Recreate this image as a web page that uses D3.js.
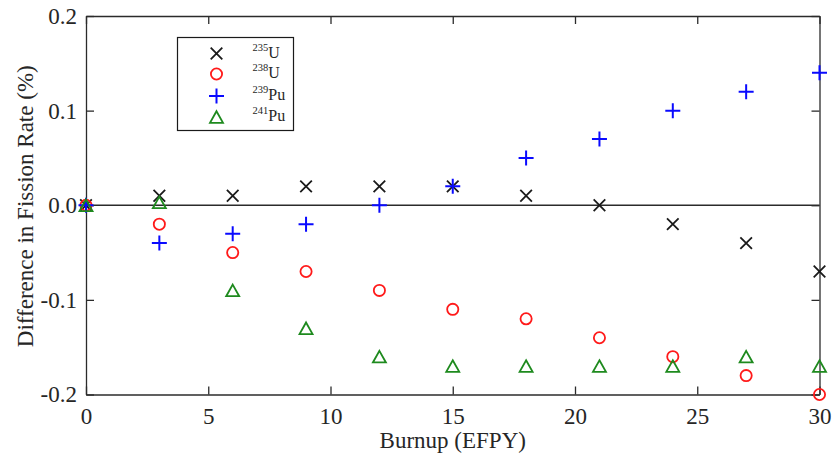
<!DOCTYPE html>
<html>
<head>
<meta charset="utf-8">
<script src="https://cdn.jsdelivr.net/npm/d3@7"></script>
<style>
  html, body { margin: 0; padding: 0; background: #fff; }
  svg { display: block; }
  svg text { font-family: "Liberation Serif", "Times New Roman", serif; }
</style>
</head>
<body>
<svg id="chart" width="833" height="460"></svg>
<script>
// Burnup steps (EFPY)
const burnup = [0, 3, 6, 9, 12, 15, 18, 21, 24, 27, 30];

// Difference in fission rate (%) per nuclide
const u235  = [0, 0.01, 0.01, 0.02, 0.02, 0.02, 0.01, 0.0, -0.02, -0.04, -0.07];
const u238  = [0, -0.02, -0.05, -0.07, -0.09, -0.11, -0.12, -0.14, -0.16, -0.18, -0.2];
const pu239 = [0, -0.04, -0.03, -0.02, 0.0, 0.02, 0.05, 0.07, 0.1, 0.12, 0.14];
const pu241 = [0, 0.003, -0.09, -0.13, -0.16, -0.17, -0.17, -0.17, -0.17, -0.16, -0.17];

// Axis ticks
const xTicks = [0, 5, 10, 15, 20, 25, 30];
const yTicks = [-0.2, -0.1, 0.0, 0.1, 0.2];

// Legend entries: mass number and element
const legendMass = ["235", "238", "239", "241"];
const legendElem = ["U", "U", "Pu", "Pu"];

const series = [
  { values: u235,  shape: "x",        color: "#1a1a1a" },
  { values: u238,  shape: "circle",   color: "#ff1a1a" },
  { values: pu239, shape: "plus",     color: "#0a0aff" },
  { values: pu241, shape: "triangle", color: "#1e8a1e" }
];

const svg = d3.select("#chart");
const pLeft = 86, pRight = 819.5, pTop = 16, pBottom = 394.5;

const x = d3.scaleLinear().domain([0, 30]).range([pLeft, pRight]);
const y = d3.scaleLinear().domain([-0.2, 0.2]).range([pBottom, pTop]);

const axisColor = "#2b2b2b";
const textColor = "#262626";
const fontFamily = "'Liberation Serif', 'Times New Roman', serif";
const labelSize = "23px";
const tickLen = 8;

function styleAxis(g, showText) {
  g.attr("font-family", null).attr("font-size", null);
  g.select(".domain").attr("stroke", axisColor).attr("stroke-width", 1.3);
  g.selectAll(".tick line").attr("stroke", axisColor).attr("stroke-width", 1.3);
  g.selectAll(".tick text")
    .attr("fill", textColor)
    .style("font-size", labelSize)
    .style("font-family", fontFamily)
    .style("display", showText ? null : "none");
}

const fmtY = d => d3.format(".1f")(d).replace("\u2212", "-");

// Bottom axis with labels
svg.append("g")
  .attr("transform", `translate(0,${pBottom})`)
  .call(d3.axisBottom(x).tickValues(xTicks).tickSizeInner(-tickLen).tickSizeOuter(0)
        .tickPadding(13).tickFormat(d3.format("d")))
  .call(g => styleAxis(g, true));

// Top axis (ticks only)
svg.append("g")
  .attr("transform", `translate(0,${pTop})`)
  .call(d3.axisTop(x).tickValues(xTicks).tickSizeInner(-tickLen).tickSizeOuter(0))
  .call(g => styleAxis(g, false));

// Left axis with labels
svg.append("g")
  .attr("transform", `translate(${pLeft},0)`)
  .call(d3.axisLeft(y).tickValues(yTicks).tickSizeInner(-tickLen).tickSizeOuter(0)
        .tickPadding(9).tickFormat(fmtY))
  .call(g => styleAxis(g, true));

// Right axis (ticks only)
svg.append("g")
  .attr("transform", `translate(${pRight},0)`)
  .call(d3.axisRight(y).tickValues(yTicks).tickSizeInner(-tickLen).tickSizeOuter(0))
  .call(g => styleAxis(g, false));

// Zero reference line
svg.append("line")
  .attr("x1", x(0)).attr("x2", x(30))
  .attr("y1", y(0)).attr("y2", y(0))
  .attr("stroke", axisColor).attr("stroke-width", 1.3);

// Marker path generators centred on (0,0)
function markerPath(shape) {
  switch (shape) {
    case "x": { const r = 5.8; return `M${-r},${-r}L${r},${r}M${-r},${r}L${r},${-r}`; }
    case "plus": { const r = 7.5; return `M${-r},0L${r},0M0,${-r}L0,${r}`; }
    case "circle": { const r = 5.6; return `M${r},0A${r},${r} 0 1,1 ${-r},0A${r},${r} 0 1,1 ${r},0Z`; }
    case "triangle": { const w = 6.5, h = 5.8; return `M0,${-h}L${w},${h}L${-w},${h}Z`; }
  }
}

const plot = svg.append("g");
series.forEach(s => {
  plot.append("g").selectAll("path")
    .data(burnup.map((b, i) => [b, s.values[i]]))
    .join("path")
    .attr("transform", d => `translate(${x(d[0])},${y(d[1])})`)
    .attr("d", markerPath(s.shape))
    .attr("fill", "none")
    .attr("stroke", s.color)
    .attr("stroke-width", s.shape === "plus" ? 2 : 1.8);
});

// Axis titles
svg.append("text")
  .attr("x", (pLeft + pRight) / 2).attr("y", 448)
  .attr("text-anchor", "middle")
  .attr("fill", textColor)
  .style("font-size", labelSize)
  .text("Burnup (EFPY)");

svg.append("text")
  .attr("transform", `translate(33,${(pTop + pBottom) / 2 + 1}) rotate(-90)`)
  .attr("text-anchor", "middle")
  .attr("fill", textColor)
  .style("font-size", labelSize)
  .text("Difference in Fission Rate (%)");

// Legend
const legend = svg.append("g");
legend.append("rect")
  .attr("x", 177.5).attr("y", 37.5).attr("width", 116).attr("height", 93)
  .attr("fill", "#fff").attr("stroke", "#1a1a1a").attr("stroke-width", 1.2);

const rowY = [53.5, 74, 96, 117];
series.forEach((s, i) => {
  legend.append("path")
    .attr("transform", `translate(216.5,${rowY[i]})`)
    .attr("d", markerPath(s.shape))
    .attr("fill", "none")
    .attr("stroke", s.color)
    .attr("stroke-width", s.shape === "plus" ? 2 : 1.8);
  const t = legend.append("text")
    .attr("x", 252.5).attr("y", rowY[i] + 4)
    .attr("fill", textColor)
    .style("font-size", "16px");
  t.append("tspan").attr("dy", "-7").style("font-size", "10.5px").text(legendMass[i]);
  t.append("tspan").attr("dy", "7").text(legendElem[i]);
});
</script>
</body>
</html>
